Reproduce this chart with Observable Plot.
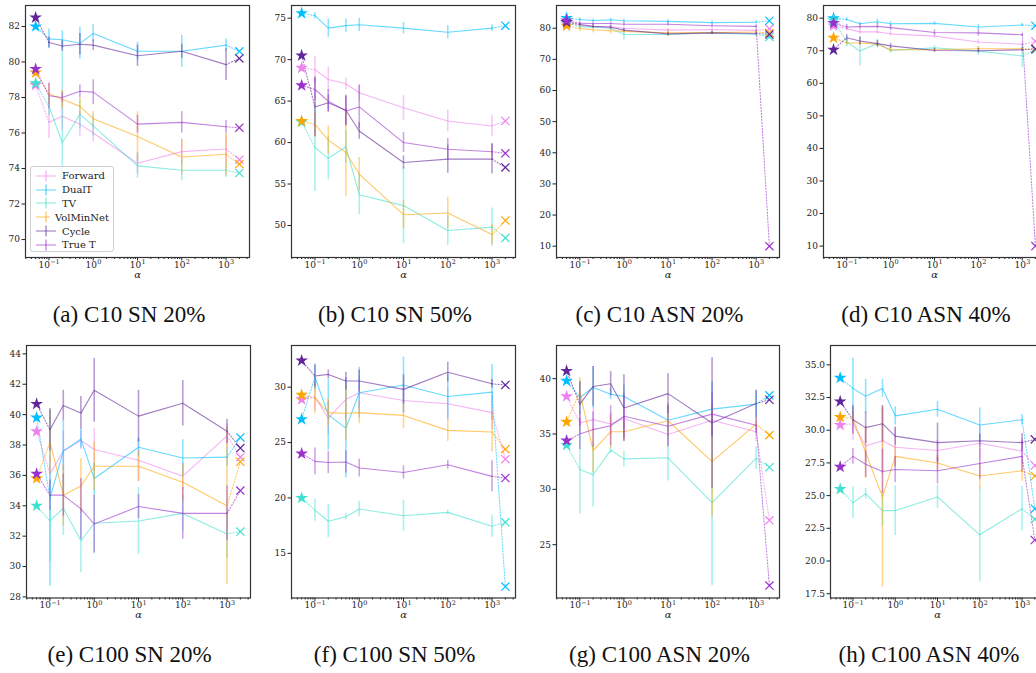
<!DOCTYPE html>
<html><head><meta charset="utf-8">
<script src="https://cdn.jsdelivr.net/npm/d3@7"></script>
<script src="https://cdn.jsdelivr.net/npm/@observablehq/plot@0.6"></script>
<style>
html,body{margin:0;padding:0;background:#fff;overflow:hidden;width:1036px;height:673px;}
#fig{position:relative;width:1036px;height:673px;overflow:hidden;background:#fff;}
.panel{position:absolute;overflow:hidden;}
.panel svg{max-width:none !important;display:block;}
.caption{position:absolute;width:320px;text-align:center;font-family:"Liberation Serif","Times New Roman",serif;font-size:23px;line-height:26px;color:#111;white-space:nowrap;}
.legend{position:absolute;background:rgba(255,255,255,0.8);border:1px solid #d0d0d0;border-radius:3px;padding:2px 4px;font-family:"DejaVu Serif",serif;font-size:10px;color:#222;box-sizing:border-box;}
.legend .row{display:flex;align-items:center;height:13.8px;}
.legend svg{margin-right:5px;}
</style>
</head><body><div id="fig"></div>
<script>
// ---------- shared data ----------
const methods = ["Forward", "DualT", "TV", "VolMinNet", "Cycle", "True T"];
const methodColors = ["#ee82ee", "#00bfff", "#40e0d0", "#ffa500", "#60259a", "#9932cc"];
const alphas = [0.1, 0.2, 0.5, 1, 10, 100, 1000];
const starAlpha = 0.05;
const crossAlpha = 2000;
const xTickValues = [0.1, 1, 10, 100, 1000];
const xTickBase = "10";
const xTickExponents = ["\u22121", "0", "1", "2", "3"];

// (a) C10 SN 20%
const c10sn20Mean = [
  [76.6, 76.95, 76.5, 76.0, 74.3, 74.95, 75.1],
  [81.3, 81.25, 81.05, 81.6, 80.6, 80.6, 80.95],
  [77.5, 75.45, 77.05, 76.4, 74.15, 73.9, 73.9],
  [78.2, 77.9, 77.5, 76.8, 75.8, 74.65, 74.8],
  [81.1, 80.9, 81.0, 80.95, 80.35, 80.6, 79.85],
  [78.1, 78.0, 78.35, 78.3, 76.5, 76.6, 76.35]
];
const c10sn20Err = [
  [0.9, 0.8, 0.7, 0.5, 0.6, 0.7, 0.8],
  [0.55, 0.5, 0.9, 0.5, 0.5, 0.9, 0.35],
  [0.5, 5.75, 0.8, 0.6, 0.7, 0.6, 0.4],
  [0.6, 0.5, 0.5, 0.4, 1.4, 1.0, 1.2],
  [0.3, 0.3, 0.6, 0.3, 0.6, 0.4, 0.9],
  [0.7, 0.3, 0.35, 0.7, 0.5, 0.6, 0.35]
];
const c10sn20Star = [78.7, 82.0, 78.8, 79.4, 82.5, 79.6];
const c10sn20Cross = [74.5, 80.6, 73.75, 74.25, 80.2, 76.3];
const c10sn20YTicks = [70, 72, 74, 76, 78, 80, 82];

// (b) C10 SN 50%
const c10sn50Mean = [
  [68.8, 67.6, 67.1, 66.0, 64.2, 62.6, 62.0],
  [75.3, 73.8, 74.1, 74.2, 73.8, 73.3, 73.8],
  [59.4, 58.1, 59.5, 53.7, 52.4, 49.4, 49.8],
  [62.2, 60.3, 58.8, 56.2, 51.3, 51.5, 48.9],
  [64.3, 64.8, 63.9, 61.4, 57.6, 58.0, 58.0],
  [66.4, 65.0, 63.8, 64.3, 60.0, 59.2, 58.9]
];
const c10sn50Err = [
  [1.6, 1.5, 0.7, 1.0, 1.5, 1.3, 1.3],
  [0.4, 1.1, 0.8, 0.8, 0.7, 0.8, 0.4],
  [5.3, 2.6, 2.0, 2.4, 4.6, 1.8, 2.3],
  [1.5, 1.7, 5.3, 2.0, 1.7, 1.9, 1.2],
  [3.6, 1.0, 1.8, 1.0, 0.8, 1.7, 1.8],
  [1.4, 1.4, 1.8, 2.6, 1.2, 1.3, 1.0]
];
const c10sn50Star = [69.0, 75.6, 62.5, 62.6, 70.5, 66.9];
const c10sn50Cross = [62.6, 74.1, 48.5, 50.6, 57.0, 58.7];
const c10sn50YTicks = [50, 55, 60, 65, 70, 75];

// (c) C10 ASN 20%
const c10asn20Mean = [
  [81.0, 80.6, 80.5, 80.0, 79.4, 79.6, 79.3],
  [82.8, 82.5, 82.7, 82.4, 82.2, 81.8, 81.9],
  [80.5, 80.3, 80.0, 78.0, 78.0, 78.5, 78.0],
  [79.9, 79.5, 79.2, 79.0, 78.5, 78.6, 78.8],
  [81.2, 80.6, 80.3, 79.4, 78.2, 78.5, 78.3],
  [81.6, 81.5, 81.5, 81.3, 81.3, 80.8, 80.6]
];
const c10asn20Err = [
  [0.5, 0.5, 0.5, 0.5, 0.5, 0.5, 0.5],
  [0.6, 0.5, 0.5, 0.6, 0.6, 0.6, 0.5],
  [0.8, 0.5, 0.6, 1.8, 0.7, 0.5, 0.7],
  [1.0, 1.0, 1.0, 0.7, 1.2, 0.5, 0.5],
  [0.5, 0.6, 0.6, 0.5, 0.5, 0.5, 0.5],
  [0.5, 0.5, 0.5, 0.6, 0.6, 0.5, 0.5]
];
const c10asn20Star = [81.5, 83.3, 81.8, 80.8, 82.0, 82.5];
const c10asn20Cross = [79.8, 82.4, 77.2, 78.5, 78.0, 10.0];
const c10asn20YTicks = [10, 20, 30, 40, 50, 60, 70, 80];

// (d) C10 ASN 40%
const c10asn40Mean = [
  [76.8, 75.8, 75.8, 75.2, 74.5, 72.7, 72.0],
  [79.6, 78.3, 78.9, 78.3, 78.4, 77.3, 77.9],
  [72.7, 69.9, 72.2, 70.1, 70.9, 69.9, 68.4],
  [72.4, 72.4, 72.0, 70.3, 70.3, 70.6, 70.6],
  [74.0, 73.0, 72.2, 71.5, 70.1, 70.0, 70.3],
  [77.3, 77.4, 77.5, 77.1, 75.6, 75.5, 74.9]
];
const c10asn40Err = [
  [0.7, 0.7, 0.7, 0.7, 0.7, 0.7, 0.7],
  [0.6, 0.5, 0.8, 0.7, 0.5, 0.8, 0.5],
  [1.5, 4.5, 1.3, 0.8, 0.7, 1.3, 3.5],
  [0.8, 0.7, 0.8, 0.8, 0.5, 0.7, 0.5],
  [1.0, 1.2, 1.0, 0.8, 0.6, 0.7, 0.6],
  [0.8, 0.8, 0.8, 0.9, 0.8, 1.0, 0.5]
];
const c10asn40Star = [77.7, 80.0, 79.3, 74.0, 70.3, 78.5];
const c10asn40Cross = [72.9, 77.7, 70.2, 70.5, 70.6, 10.0];
const c10asn40YTicks = [10, 20, 30, 40, 50, 60, 70, 80];

// (e) C100 SN 20%
const c100sn20Mean = [
  [36.1, 37.6, 38.3, 37.7, 37.0, 35.95, 38.6],
  [34.5, 37.6, 38.4, 35.8, 37.85, 37.15, 37.2],
  [33.0, 33.85, 31.7, 32.85, 33.0, 33.5, 32.15],
  [38.2, 34.7, 35.3, 36.6, 36.6, 35.55, 34.0],
  [39.0, 40.6, 40.1, 41.6, 39.9, 40.75, 38.9],
  [34.7, 34.7, 33.8, 32.8, 33.95, 33.5, 33.5]
];
const c100sn20Err = [
  [1.2, 1.3, 0.6, 1.4, 1.4, 0.9, 0.8],
  [5.8, 2.0, 0.6, 1.0, 0.6, 1.2, 0.6],
  [2.7, 1.8, 2.1, 2.0, 2.2, 1.2, 1.6],
  [2.1, 2.0, 1.8, 1.6, 1.0, 1.2, 5.2],
  [1.4, 1.0, 1.1, 2.1, 1.7, 1.5, 0.8],
  [1.0, 1.4, 2.0, 1.9, 0.8, 1.7, 1.8]
];
const c100sn20Star = [38.9, 39.8, 34.0, 35.8, 40.7, 36.1];
const c100sn20Cross = [37.2, 38.5, 32.3, 36.9, 37.8, 35.0];
const c100sn20YTicks = [28, 30, 32, 34, 36, 38, 40, 42, 44];

// (f) C100 SN 50%
const c100sn50Mean = [
  [29.1, 27.2, 28.9, 29.5, 28.8, 28.5, 27.7],
  [30.9, 27.5, 26.3, 29.5, 30.2, 29.15, 29.55],
  [18.9, 17.9, 18.3, 19.0, 18.4, 18.7, 17.45],
  [29.0, 27.7, 27.65, 27.7, 27.45, 26.1, 25.95],
  [31.0, 31.15, 30.55, 30.55, 29.8, 31.35, 30.3],
  [23.3, 23.2, 23.25, 22.7, 22.3, 23.0, 21.95]
];
const c100sn50Err = [
  [1.2, 1.5, 2.0, 1.5, 1.2, 1.5, 1.5],
  [1.2, 3.2, 4.5, 2.3, 2.5, 2.0, 2.5],
  [1.0, 1.5, 0.3, 0.7, 1.4, 0.2, 1.0],
  [1.4, 1.2, 2.5, 1.0, 1.2, 1.0, 1.8],
  [1.0, 0.4, 0.8, 1.0, 1.3, 0.9, 0.4],
  [1.2, 1.0, 1.0, 0.8, 0.6, 0.4, 1.4]
];
const c100sn50Star = [28.9, 27.1, 20.0, 29.3, 32.4, 24.0];
const c100sn50Cross = [23.5, 12.0, 17.8, 24.4, 30.2, 21.8];
const c100sn50YTicks = [15, 20, 25, 30];

// (g) C100 ASN 20%
const c100asn20Mean = [
  [36.0, 36.3, 35.9, 36.4, 34.95, 36.25, 35.2],
  [38.3, 39.2, 38.6, 38.4, 36.25, 37.25, 37.7],
  [31.8, 31.3, 33.55, 32.75, 32.85, 28.8, 32.8],
  [38.8, 33.5, 35.2, 35.2, 36.2, 32.5, 35.9],
  [37.7, 39.3, 39.55, 37.35, 38.65, 36.0, 37.75],
  [35.0, 35.4, 35.75, 36.6, 35.7, 36.8, 35.8]
];
const c100asn20Err = [
  [1.0, 1.0, 1.0, 1.0, 1.2, 1.5, 0.9],
  [1.5, 1.9, 0.5, 1.0, 1.5, 2.5, 1.2],
  [4.0, 2.9, 0.3, 0.7, 2.1, 7.5, 1.0],
  [1.3, 2.0, 1.5, 0.9, 1.5, 5.0, 0.6],
  [2.0, 1.8, 1.1, 3.0, 1.8, 5.9, 1.2],
  [1.4, 1.6, 1.8, 2.0, 1.8, 2.0, 0.8]
];
const c100asn20Star = [38.4, 39.8, 34.0, 36.1, 40.7, 34.4];
const c100asn20Cross = [27.2, 38.5, 32.0, 34.9, 38.1, 21.3];
const c100asn20YTicks = [25, 30, 35, 40];

// (h) C100 ASN 40%
const c100asn40Mean = [
  [30.5, 28.8, 29.2, 28.7, 28.45, 29.0, 28.4],
  [33.2, 32.6, 33.2, 31.1, 31.6, 30.4, 30.8],
  [24.45, 25.15, 23.85, 23.85, 24.9, 22.0, 24.0],
  [30.9, 28.3, 24.9, 28.0, 27.5, 26.5, 26.9],
  [30.8, 30.2, 30.5, 29.55, 29.05, 29.2, 29.05],
  [28.0, 27.4, 26.85, 27.0, 26.9, 27.45, 28.0]
];
const c100asn40Err = [
  [1.3, 1.3, 2.5, 1.5, 0.8, 1.3, 1.0],
  [2.3, 1.3, 0.7, 0.7, 0.6, 1.3, 0.4],
  [1.2, 0.4, 1.2, 1.9, 0.9, 3.6, 1.7],
  [0.5, 2.0, 6.9, 0.8, 0.6, 1.0, 0.8],
  [1.1, 1.2, 1.4, 0.7, 1.5, 0.5, 0.7],
  [0.6, 1.0, 1.7, 1.0, 1.0, 1.2, 1.2]
];
const c100asn40Star = [30.4, 34.0, 25.5, 31.0, 32.2, 27.2];
const c100asn40Cross = [27.3, 24.0, 23.2, 26.5, 29.3, 21.6];
const c100asn40YTicks = [17.5, 20.0, 22.5, 25.0, 27.5, 30.0, 32.5, 35.0];

// ---------- layout ----------
const panels = [
  {caption: "(a) C10 SN 20%", mean: c10sn20Mean, err: c10sn20Err, star: c10sn20Star, cross: c10sn20Cross, yTicks: c10sn20YTicks, yDomain: [68.99, 83.18], left: 25, top: 5, w: 224, h: 252, legend: true},
  {caption: "(b) C10 SN 50%", mean: c10sn50Mean, err: c10sn50Err, star: c10sn50Star, cross: c10sn50Cross, yTicks: c10sn50YTicks, yDomain: [46.14, 76.53], left: 291, top: 5, w: 224, h: 252},
  {caption: "(c) C10 ASN 20%", mean: c10asn20Mean, err: c10asn20Err, star: c10asn20Star, cross: c10asn20Cross, yTicks: c10asn20YTicks, yDomain: [6.37, 87.3], left: 556, top: 5, w: 223, h: 252},
  {caption: "(d) C10 ASN 40%", mean: c10asn40Mean, err: c10asn40Err, star: c10asn40Star, cross: c10asn40Cross, yTicks: c10asn40YTicks, yDomain: [6.5, 83.9], left: 823, top: 5, w: 222, h: 252},
  {caption: "(e) C100 SN 20%", mean: c100sn20Mean, err: c100sn20Err, star: c100sn20Star, cross: c100sn20Cross, yTicks: c100sn20YTicks, yDomain: [27.93, 44.55], left: 25.6, top: 345, w: 224, h: 252.5},
  {caption: "(f) C100 SN 50%", mean: c100sn50Mean, err: c100sn50Err, star: c100sn50Star, cross: c100sn50Cross, yTicks: c100sn50YTicks, yDomain: [10.97, 33.76], left: 290.7, top: 345, w: 224, h: 252.5},
  {caption: "(g) C100 ASN 20%", mean: c100asn20Mean, err: c100asn20Err, star: c100asn20Star, cross: c100asn20Cross, yTicks: c100asn20YTicks, yDomain: [20.18, 43.0], left: 556, top: 345, w: 223, h: 252.5},
  {caption: "(h) C100 ASN 40%", mean: c100asn40Mean, err: c100asn40Err, star: c100asn40Star, cross: c100asn40Cross, yTicks: c100asn40YTicks, yDomain: [17.17, 36.48], left: 830, top: 345, w: 214, h: 252.5, yFormat: d3.format(".1f")}
];

const xLo = Math.pow(10, -1.53), xHi = Math.pow(10, 3.53);
const minorTicks = [];
for (let k = -2; k <= 3; k++) for (let m = 2; m <= 9; m++) {
  const v = m * Math.pow(10, k);
  if (v > xLo && v < xHi) minorTicks.push(v);
}

const fig = document.getElementById("fig");
const ML = 34, MR = 14, MT = 5, MB = 30;
const tickFont = "DejaVu Serif";

function drawPanel(p) {
  const rows = [], dots = [], stars = [], crosses = [];
  methods.forEach((m, i) => {
    alphas.forEach((a, j) => rows.push({method: m, alpha: a, v: p.mean[i][j], lo: p.mean[i][j] - p.err[i][j], hi: p.mean[i][j] + p.err[i][j]}));
    stars.push({method: m, alpha: starAlpha, v: p.star[i]});
    crosses.push({method: m, alpha: crossAlpha, v: p.cross[i]});
    dots.push({method: m, seg: m + "-s", alpha: starAlpha, v: p.star[i]}, {method: m, seg: m + "-s", alpha: alphas[0], v: p.mean[i][0]});
    dots.push({method: m, seg: m + "-e", alpha: alphas[alphas.length - 1], v: p.mean[i][alphas.length - 1]}, {method: m, seg: m + "-e", alpha: crossAlpha, v: p.cross[i]});
  });
  const tickRows = xTickValues.map((v, i) => ({v, exp: xTickExponents[i]}));
  const negTicks = tickRows.filter(d => d.exp.length > 1);
  const posTicks = tickRows.filter(d => d.exp.length === 1);
  const marks = [];
  methods.forEach(m => {
    const r = rows.filter(d => d.method === m);
    marks.push(Plot.ruleX(r, {x: "alpha", y1: "lo", y2: "hi", stroke: "method", strokeOpacity: 0.45, strokeWidth: 1.6}));
    marks.push(Plot.line(r, {x: "alpha", y: "v", stroke: "method", strokeOpacity: 0.6, strokeWidth: 1.1}));
  });
  marks.push(Plot.line(dots, {x: "alpha", y: "v", z: "seg", stroke: "method", strokeOpacity: 0.6, strokeWidth: 1.1, strokeDasharray: "1.2,1.8"}));
  marks.push(Plot.dot(stars, {x: "alpha", y: "v", symbol: "star", fill: "method", stroke: null, r: 4}));
  marks.push(Plot.dot(crosses, {x: "alpha", y: "v", symbol: "times", stroke: "method", fill: "none", r: 3.8, strokeWidth: 1.2}));
  marks.push(Plot.axisY({ticks: p.yTicks, tickSize: 3.5, tickPadding: 2, tickFormat: p.yFormat || (d => String(d)), label: null, fontSize: 9, fontFamily: tickFont}));
  marks.push(Plot.axisX({ticks: minorTicks, tickSize: 2, tickFormat: () => "", label: null}));
  marks.push(Plot.axisX({ticks: xTickValues, tickSize: 3.5, tickFormat: () => "", label: null}));
  // tick labels: base "10" + raised exponent
  const tickText = {frameAnchor: "bottom", fontFamily: tickFont, fill: "#222"};
  marks.push(Plot.text(posTicks, {...tickText, x: "v", text: () => xTickBase, textAnchor: "end", dx: 3.7, dy: 10, fontSize: 9}));
  marks.push(Plot.text(posTicks, {...tickText, x: "v", text: "exp", textAnchor: "start", dx: 3.9, dy: 6.5, fontSize: 6.5}));
  marks.push(Plot.text(negTicks, {...tickText, x: "v", text: () => xTickBase, textAnchor: "end", dx: 1, dy: 10, fontSize: 9}));
  marks.push(Plot.text(negTicks, {...tickText, x: "v", text: "exp", textAnchor: "start", dx: 1.2, dy: 6.5, fontSize: 6.5}));
  marks.push(Plot.text(["\u03B1"], {frameAnchor: "bottom", dy: 20, fontStyle: "italic", fontSize: 10, fontFamily: tickFont, fill: "#222"}));
  marks.push(Plot.frame({stroke: "#333", strokeWidth: 1.2}));

  const W = p.w + ML + MR, H = p.h + MT + MB;
  const chart = Plot.plot({
    width: W,
    height: H,
    marginLeft: ML, marginRight: MR, marginTop: MT, marginBottom: MB,
    x: {type: "log", domain: [xLo, xHi]},
    y: {domain: p.yDomain},
    color: {domain: methods, range: methodColors},
    style: {fontFamily: tickFont, fontSize: "9px", color: "#222", background: "transparent", maxWidth: "none"},
    marks
  });
  chart.style.width = W + "px";
  chart.style.height = H + "px";
  chart.style.maxWidth = "none";
  const wrap = document.createElement("div");
  wrap.className = "panel";
  const left = p.left - ML;
  wrap.style.left = left + "px";
  wrap.style.top = (p.top - MT) + "px";
  wrap.style.width = Math.min(W, 1036 - left) + "px";
  wrap.style.height = H + "px";
  wrap.appendChild(chart);
  fig.appendChild(wrap);

  const cap = document.createElement("div");
  cap.className = "caption";
  cap.textContent = p.caption;
  cap.style.left = (p.left + p.w / 2 - 8 - 160) + "px";
  cap.style.top = (p.top < 100 ? 302 : 642) + "px";
  fig.appendChild(cap);

  if (p.legend) {
    const lg = document.createElement("div");
    lg.className = "legend";
    lg.style.left = "30px"; lg.style.top = "166px"; lg.style.width = "84px"; lg.style.height = "86px";
    methods.forEach((m, i) => {
      const row = document.createElement("div");
      row.className = "row";
      row.innerHTML = `<svg width="22" height="12"><line x1="1" x2="21" y1="6" y2="6" stroke="${methodColors[i]}" stroke-opacity="0.6" stroke-width="1.1"/><line x1="11" x2="11" y1="0.5" y2="11.5" stroke="${methodColors[i]}" stroke-opacity="0.5" stroke-width="1.6"/></svg><span>${m}</span>`;
      lg.appendChild(row);
    });
    fig.appendChild(lg);
  }
}
panels.forEach(drawPanel);
</script>
</body></html>
